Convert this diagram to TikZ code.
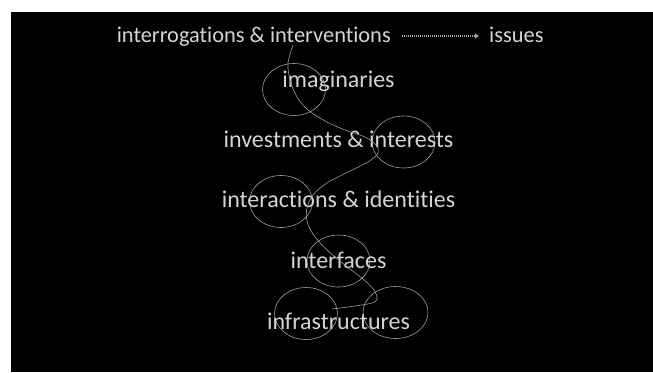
\documentclass[tikz,border=0pt]{standalone}
\usepackage{fontspec}
\setmainfont{Carlito}[Ligatures={NoCommon,NoRequired,NoContextual}]
\usetikzlibrary{shapes.geometric,arrows.meta}
\definecolor{txt}{HTML}{D4D4D4}
\definecolor{pen}{HTML}{9C9C9C}
\tikzset{
  label/.style={text=txt, inner sep=0pt, font=\fontsize{24}{28}\selectfont, anchor=base},
  toplabel/.style={label, font=\fontsize{22.4}{27}\selectfont},
  ring/.style={draw=pen, line width=0.6pt, ellipse, inner sep=0pt, minimum width=63pt, minimum height=52pt},
  scribble/.style={draw=pen, line width=0.6pt},
  dotarrow/.style={draw=txt!80!black, line width=1.2pt, dash pattern=on 0.9pt off 1.1pt, -{Triangle[length=4pt,width=4.5pt]}}
}
\begin{document}
\begin{tikzpicture}[x=1pt,y=-1pt]
\useasboundingbox (0,0) rectangle (653,372);
\fill[white] (0,0) rectangle (653,372);
\fill[black] (11,12) rectangle (653,372);
% circles
\node[ring] (c1) at (294,89.5) {};
\node[ring] (c2) at (403.5,142) {};
\node[ring] (c3) at (281,201.5) {};
\node[ring] (c4) at (338.5,261) {};
\node[ring] (c5) at (306,313.5) {};
\node[ring,minimum width=65pt] (c6) at (395.5,312.5) {};
% texts
\node[toplabel,anchor=base east] (top) at (391,42) {interrogations \& interventions};
\node[toplabel,anchor=base west] (iss) at (489,42) {issues};
\node[label] (l1) at (338.5,87) {imaginaries};
\node[label] (l2) at (338.5,147) {investments \& interests};
\node[label] (l3) at (338.5,207) {interactions \& identities};
\node[label] (l4) at (338.5,268) {interfaces};
\node[label] (l5) at (338.5,329) {infrastructures};
% dotted arrow
\draw[dotarrow] ([xshift=11pt,yshift=6pt]top.base east) -- ([xshift=-10pt,yshift=6pt]iss.base west);
% scribble
\coordinate (s) at (293,45);
\coordinate (e) at (332,309);
\draw[scribble] plot[smooth, tension=0.55] coordinates {
 (s) (288,63) (290,80) (297,97) (308,110) (325,121) (345,130) (365,137)
 (376,145) (378,153) (368,162) (348,172) (327,183) (313,195) (307,208)
 (307,221) (313,234) (326,249) (346,266) (363,279) (374,290) (377,299)
 (372,303) (355,306) (e)};
\end{tikzpicture}
\end{document}
